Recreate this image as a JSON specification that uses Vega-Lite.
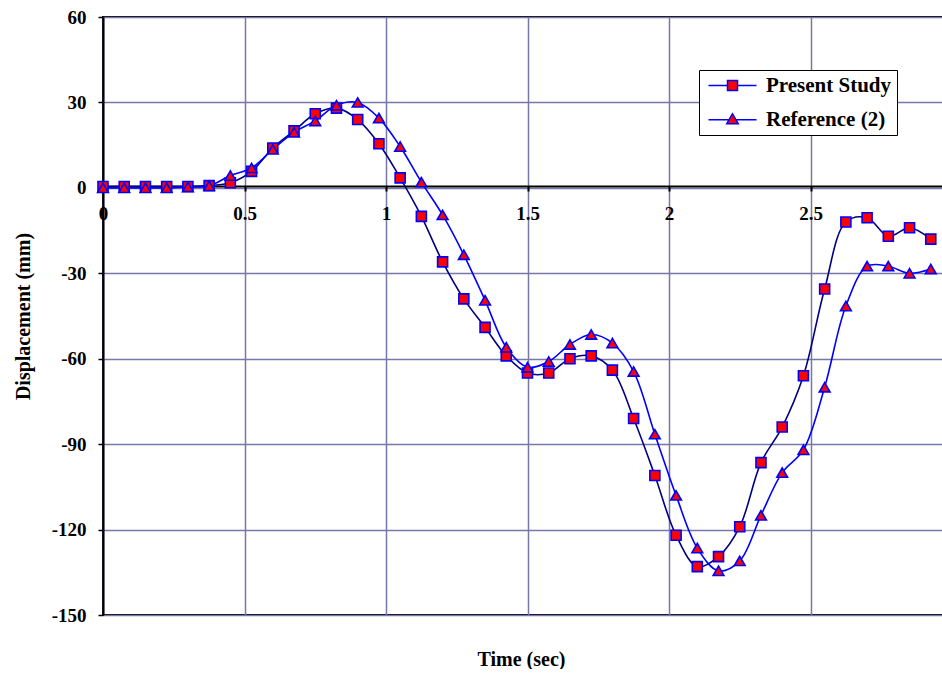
{
  "$schema": "https://vega.github.io/schema/vega-lite/v6.json",
  "width": 849,
  "height": 598,
  "padding": {"left": 13, "top": 8, "right": 0, "bottom": 0},
  "background": "white",
  "config": {
    "view": {"stroke": "black", "strokeWidth": 2},
    "font": "Liberation Serif"
  },
  "datasets": {
    "d": [
      {"t": 0, "series": "Present Study", "y": 0.5},
      {"t": 0.075, "series": "Present Study", "y": 0.5},
      {"t": 0.15, "series": "Present Study", "y": 0.5},
      {"t": 0.225, "series": "Present Study", "y": 0.5},
      {"t": 0.3, "series": "Present Study", "y": 0.5},
      {"t": 0.375, "series": "Present Study", "y": 0.8},
      {"t": 0.45, "series": "Present Study", "y": 1.8},
      {"t": 0.525, "series": "Present Study", "y": 5.8},
      {"t": 0.6, "series": "Present Study", "y": 14},
      {"t": 0.675, "series": "Present Study", "y": 20},
      {"t": 0.75, "series": "Present Study", "y": 26},
      {"t": 0.825, "series": "Present Study", "y": 28},
      {"t": 0.9, "series": "Present Study", "y": 24},
      {"t": 0.975, "series": "Present Study", "y": 15.5},
      {"t": 1.05, "series": "Present Study", "y": 3.5},
      {"t": 1.125, "series": "Present Study", "y": -10},
      {"t": 1.2, "series": "Present Study", "y": -26},
      {"t": 1.275, "series": "Present Study", "y": -39},
      {"t": 1.35, "series": "Present Study", "y": -49},
      {"t": 1.425, "series": "Present Study", "y": -59},
      {"t": 1.5, "series": "Present Study", "y": -65},
      {"t": 1.575, "series": "Present Study", "y": -65},
      {"t": 1.65, "series": "Present Study", "y": -60},
      {"t": 1.725, "series": "Present Study", "y": -59},
      {"t": 1.8, "series": "Present Study", "y": -64},
      {"t": 1.875, "series": "Present Study", "y": -81},
      {"t": 1.95, "series": "Present Study", "y": -101},
      {"t": 2.025, "series": "Present Study", "y": -122},
      {"t": 2.1, "series": "Present Study", "y": -133},
      {"t": 2.175, "series": "Present Study", "y": -129.5},
      {"t": 2.25, "series": "Present Study", "y": -119},
      {"t": 2.325, "series": "Present Study", "y": -96.5},
      {"t": 2.4, "series": "Present Study", "y": -84},
      {"t": 2.475, "series": "Present Study", "y": -66},
      {"t": 2.55, "series": "Present Study", "y": -35.5},
      {"t": 2.625, "series": "Present Study", "y": -12},
      {"t": 2.7, "series": "Present Study", "y": -10.5},
      {"t": 2.775, "series": "Present Study", "y": -17},
      {"t": 2.85, "series": "Present Study", "y": -14},
      {"t": 2.925, "series": "Present Study", "y": -18},
      {"t": 0, "series": "Reference (2)", "y": 0},
      {"t": 0.075, "series": "Reference (2)", "y": 0},
      {"t": 0.15, "series": "Reference (2)", "y": 0},
      {"t": 0.225, "series": "Reference (2)", "y": 0},
      {"t": 0.3, "series": "Reference (2)", "y": 0.3},
      {"t": 0.375, "series": "Reference (2)", "y": 0.7},
      {"t": 0.45, "series": "Reference (2)", "y": 4.3},
      {"t": 0.525, "series": "Reference (2)", "y": 7},
      {"t": 0.6, "series": "Reference (2)", "y": 13.5},
      {"t": 0.675, "series": "Reference (2)", "y": 19.5},
      {"t": 0.75, "series": "Reference (2)", "y": 23.5},
      {"t": 0.825, "series": "Reference (2)", "y": 29},
      {"t": 0.9, "series": "Reference (2)", "y": 30},
      {"t": 0.975, "series": "Reference (2)", "y": 24.5},
      {"t": 1.05, "series": "Reference (2)", "y": 14.5},
      {"t": 1.125, "series": "Reference (2)", "y": 2},
      {"t": 1.2, "series": "Reference (2)", "y": -9.5},
      {"t": 1.275, "series": "Reference (2)", "y": -23.5},
      {"t": 1.35, "series": "Reference (2)", "y": -39.5},
      {"t": 1.425, "series": "Reference (2)", "y": -56},
      {"t": 1.5, "series": "Reference (2)", "y": -63},
      {"t": 1.575, "series": "Reference (2)", "y": -61},
      {"t": 1.65, "series": "Reference (2)", "y": -55},
      {"t": 1.725, "series": "Reference (2)", "y": -51.5},
      {"t": 1.8, "series": "Reference (2)", "y": -54.5},
      {"t": 1.875, "series": "Reference (2)", "y": -64.5},
      {"t": 1.95, "series": "Reference (2)", "y": -86.5},
      {"t": 2.025, "series": "Reference (2)", "y": -108},
      {"t": 2.1, "series": "Reference (2)", "y": -126.5},
      {"t": 2.175, "series": "Reference (2)", "y": -134.5},
      {"t": 2.25, "series": "Reference (2)", "y": -131},
      {"t": 2.325, "series": "Reference (2)", "y": -115},
      {"t": 2.4, "series": "Reference (2)", "y": -100},
      {"t": 2.475, "series": "Reference (2)", "y": -92},
      {"t": 2.55, "series": "Reference (2)", "y": -70},
      {"t": 2.625, "series": "Reference (2)", "y": -41.5},
      {"t": 2.7, "series": "Reference (2)", "y": -27.5},
      {"t": 2.775, "series": "Reference (2)", "y": -27.5},
      {"t": 2.85, "series": "Reference (2)", "y": -30},
      {"t": 2.925, "series": "Reference (2)", "y": -28.5}
    ]
  },
  "data": {"name": "d"},
  "encoding": {
    "x": {
      "field": "t",
      "type": "quantitative",
      "scale": {"domain": [0, 3], "nice": false, "zero": false},
      "axis": {
        "values": [0, 0.5, 1, 1.5, 2, 2.5],
        "labelExpr": "'' + datum.value",
        "offset": -429,
        "grid": true,
        "gridColor": "#7878A8",
        "gridWidth": 1.5,
        "domainColor": "black",
        "domainWidth": 2,
        "tickColor": "black",
        "tickWidth": 2,
        "tickSize": 5,
        "labelFont": "Liberation Serif",
        "labelFontWeight": "bold",
        "labelFontSize": 19,
        "labelColor": "black",
        "labelPadding": 13,
        "labelFlush": false,
        "labelOverlap": false,
        "title": "Time (sec)",
        "titleFont": "Liberation Serif",
        "titleFontWeight": "bold",
        "titleFontSize": 20,
        "titleColor": "black",
        "titleBaseline": "middle",
        "titleAnchor": "middle",
        "titleX": 418,
        "titleY": 473
      }
    },
    "y": {
      "field": "y",
      "type": "quantitative",
      "scale": {"domain": [-150, 60], "nice": false, "zero": false},
      "axis": {
        "values": [-150, -120, -90, -60, -30, 0, 30, 60],
        "labelExpr": "'' + datum.value",
        "grid": true,
        "gridColor": "#7878A8",
        "gridWidth": 1.5,
        "domainColor": "black",
        "domainWidth": 2,
        "tickColor": "black",
        "tickWidth": 1.5,
        "tickSize": 5,
        "labelFont": "Liberation Serif",
        "labelFontWeight": "bold",
        "labelFontSize": 19,
        "labelColor": "black",
        "labelPadding": 12,
        "labelFlush": false,
        "labelOverlap": false,
        "title": "Displacement (mm)",
        "titleFont": "Liberation Serif",
        "titleFontWeight": "bold",
        "titleFontSize": 20,
        "titleColor": "black",
        "titleAngle": 270,
        "titleAlign": "center",
        "titleBaseline": "middle",
        "titleAnchor": "middle",
        "titleX": -80,
        "titleY": 299
      }
    }
  },
  "layer": [
    {
      "transform": [{"filter": "datum.series === 'Present Study'"}],
      "mark": {"type": "line", "interpolate": "catmull-rom", "strokeWidth": 1.6, "color": "#000080"}
    },
    {
      "transform": [{"filter": "datum.series === 'Reference (2)'"}],
      "mark": {"type": "line", "interpolate": "catmull-rom", "strokeWidth": 1.6, "color": "#0000FF"}
    },
    {
      "transform": [{"filter": "datum.series === 'Present Study'"}],
      "mark": {"type": "point", "shape": "square", "filled": true, "fill": "#FF0000", "stroke": "#0000FF", "strokeWidth": 1.6, "opacity": 1, "size": 100}
    },
    {
      "transform": [{"filter": "datum.series === 'Reference (2)'"}],
      "mark": {"type": "point", "shape": "triangle-up", "filled": true, "fill": "#FF0000", "stroke": "#0000FF", "strokeWidth": 1.6, "opacity": 1, "size": 115}
    },
    {
      "transform": [{"filter": "datum.t < -1"}],
      "mark": {"type": "point", "filled": true, "fill": "#FF0000", "stroke": "#0000FF", "strokeWidth": 1.6, "opacity": 1, "size": 100},
      "encoding": {
        "shape": {
          "field": "series",
          "type": "nominal",
          "scale": {
            "domain": ["Present Study", "Reference (2)"],
            "range": ["M-4.8,0H-1M1,0H4.8M-1,-1H1V1H-1Z", "M-4.8,0.05H-0.66M0.66,0.05H4.8M0,-1.15L1.15,0.85H-1.15Z"]
          },
          "legend": {
            "title": null,
            "orient": "none",
            "legendX": 596,
            "legendY": 53,
            "strokeColor": "black",
            "fillColor": "white",
            "padding": 5,
            "symbolSize": 100,
            "symbolOffset": 18,
            "labelOffset": 23,
            "rowPadding": 12,
            "labelFont": "Liberation Serif",
            "labelFontWeight": "bold",
            "labelFontSize": 21,
            "labelColor": "black"
          }
        }
      }
    }
  ]
}
